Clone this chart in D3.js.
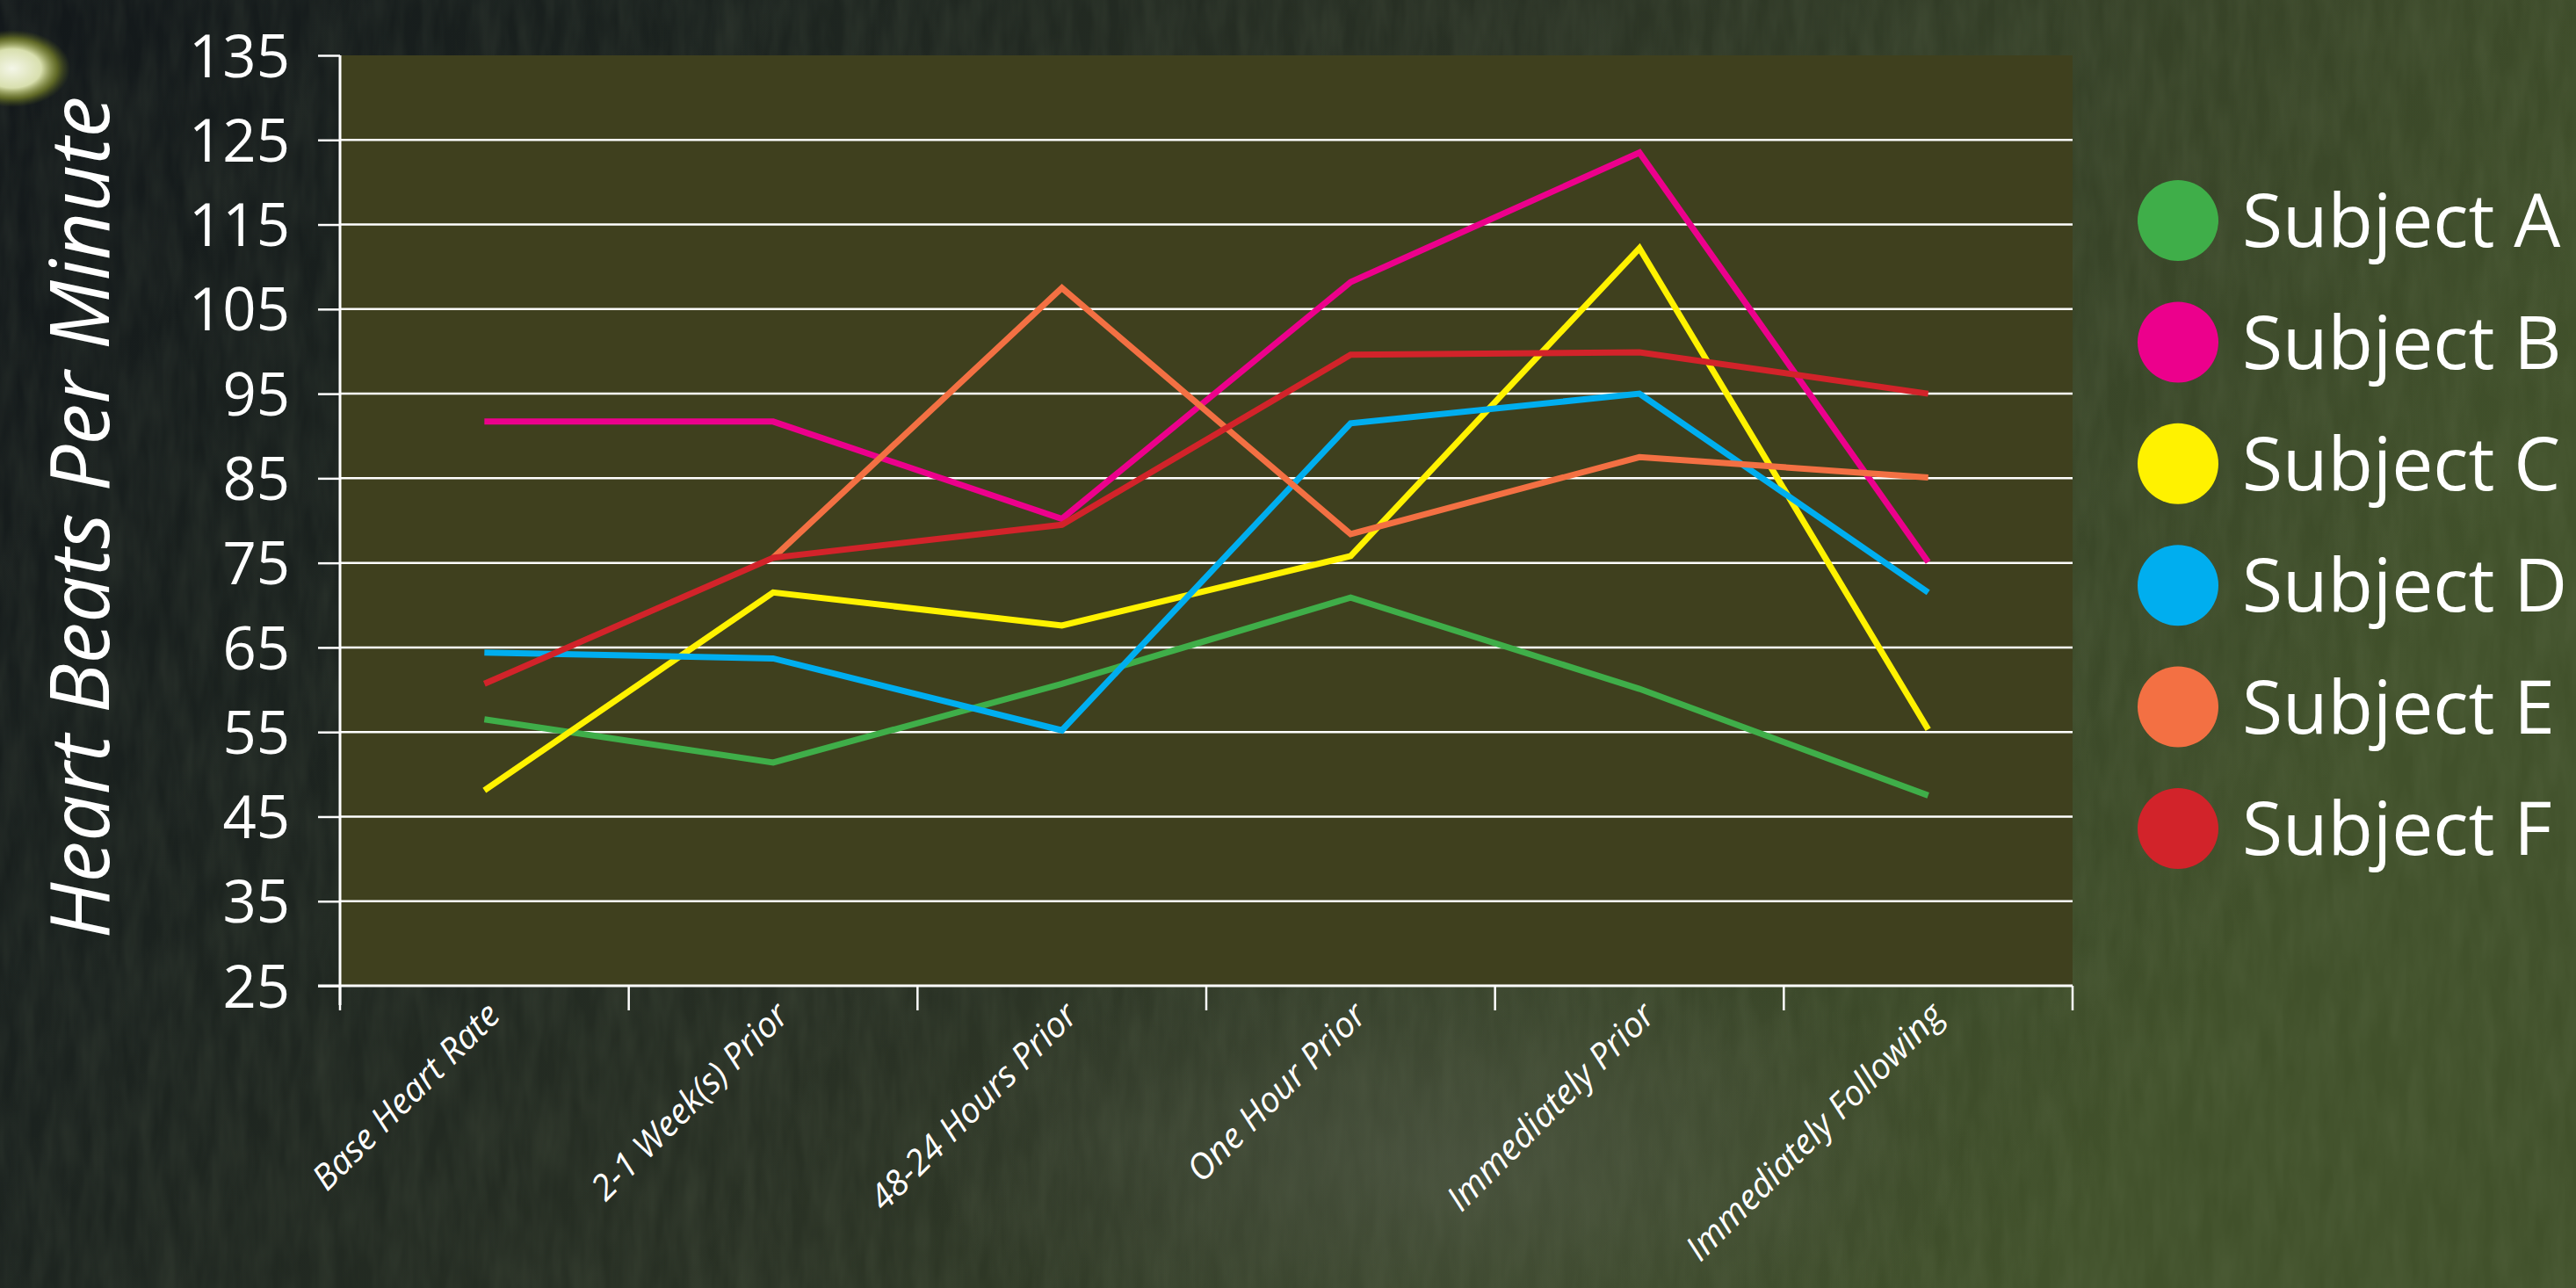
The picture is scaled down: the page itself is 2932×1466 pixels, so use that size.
<!DOCTYPE html>
<html>
<head>
<meta charset="utf-8">
<script src="https://cdn.jsdelivr.net/npm/d3@7"></script>
<style>
  html, body { margin: 0; padding: 0; background: #1b211f; }
  svg { display: block; }
</style>
</head>
<body>
<script>

// categories along the x axis
var categories = ["Base Heart Rate", "2-1 Week(s) Prior", "48-24 Hours Prior",
                  "One Hour Prior", "Immediately Prior", "Immediately Following"];

// heart rate per subject (null = no reading)
var subjectA = [56.5, 51.4, 60.7, 70.9, 60.1, 47.5];
var subjectB = [91.7, 91.7, 80.2, 108.2, 123.5, 75.1];
var subjectC = [48.1, 71.5, 67.6, 75.8, 112.2, 55.3];
var subjectD = [64.4, 63.7, 55.2, 91.5, 95.0, 71.5];
var subjectE = [null, 75.6, 107.5, 78.4, 87.5, 85.1];
var subjectF = [60.7, 75.6, 79.5, 99.6, 99.9, 95.0];

var seriesNames = ["Subject A", "Subject B", "Subject C", "Subject D", "Subject E", "Subject F"];
var seriesColors = ["#3fae49", "#ec008c", "#fff200", "#00aeef", "#f37043", "#d2232a"];

var yTicks = [25, 35, 45, 55, 65, 75, 85, 95, 105, 115, 125, 135];

var series = [subjectA, subjectB, subjectC, subjectD, subjectE, subjectF];

var W = 2932, H = 1466;
var margin = { top: 63, right: 573, bottom: 344, left: 387 };
var width = W - margin.left - margin.right;
var height = H - margin.top - margin.bottom;

var svg = d3.select("body")
  .append("svg")
  .attr("width", W)
  .attr("height", H);

var defs = svg.append("defs");

// background: dark on the left, mossy green on the right
var bg = defs.append("linearGradient").attr("id", "bg")
  .attr("x1", 0).attr("y1", 0).attr("x2", 1).attr("y2", 0.3);
bg.append("stop").attr("offset", "0%").attr("stop-color", "#12171a");
bg.append("stop").attr("offset", "25%").attr("stop-color", "#1b221f");
bg.append("stop").attr("offset", "55%").attr("stop-color", "#2a3225");
bg.append("stop").attr("offset", "80%").attr("stop-color", "#384428");
bg.append("stop").attr("offset", "100%").attr("stop-color", "#41512b");

var haze = defs.append("radialGradient").attr("id", "haze");
haze.append("stop").attr("offset", "0%").attr("stop-color", "#5a6152").attr("stop-opacity", 0.5);
haze.append("stop").attr("offset", "100%").attr("stop-color", "#5a6152").attr("stop-opacity", 0);

var glow = defs.append("radialGradient").attr("id", "glow");
glow.append("stop").attr("offset", "0%").attr("stop-color", "#f4f6e8");
glow.append("stop").attr("offset", "50%").attr("stop-color", "#d8dfae");
glow.append("stop").attr("offset", "78%").attr("stop-color", "#8f9a2c").attr("stop-opacity", 0.6);
glow.append("stop").attr("offset", "100%").attr("stop-color", "#5d6a1c").attr("stop-opacity", 0);

var noise = defs.append("filter").attr("id", "noise")
  .attr("x", 0).attr("y", 0).attr("width", "100%").attr("height", "100%");
noise.append("feTurbulence")
  .attr("type", "fractalNoise")
  .attr("baseFrequency", "0.05 0.012")
  .attr("numOctaves", 3)
  .attr("seed", 7);
noise.append("feColorMatrix")
  .attr("type", "matrix")
  .attr("values", "0 0 0 0 0.33  0 0 0 0 0.40  0 0 0 0 0.24  0 0 0 0.5 -0.12");

svg.append("rect").attr("width", W).attr("height", H).attr("fill", "url(#bg)");
svg.append("rect").attr("width", W).attr("height", H).attr("filter", "url(#noise)").attr("opacity", 0.3);
svg.append("ellipse").attr("cx", 1650).attr("cy", 1320).attr("rx", 600).attr("ry", 260).attr("fill", "url(#haze)");
svg.append("ellipse").attr("cx", 14).attr("cy", 78).attr("rx", 66).attr("ry", 44).attr("fill", "url(#glow)");

var g = svg.append("g")
  .attr("transform", "translate(" + margin.left + "," + margin.top + ")");

var xScale = d3.scaleBand()
  .domain(categories)
  .range([0, width])
  .padding(0);

var yScale = d3.scaleLinear()
  .domain([25, 135])
  .range([height, 0]);

// plot background
g.append("rect")
  .attr("width", width)
  .attr("height", height)
  .attr("fill", "#3f401e");

// horizontal gridlines
g.append("g")
  .selectAll("line")
  .data(yTicks.filter(function(d) { return d > 25 && d < 135; }))
  .enter()
  .append("line")
    .attr("x1", 0)
    .attr("x2", width)
    .attr("y1", function(d) { return yScale(d); })
    .attr("y2", function(d) { return yScale(d); })
    .attr("stroke", "#ffffff")
    .attr("stroke-width", 2.5);

// y axis
var yAxis = g.append("g")
  .call(d3.axisLeft(yScale).tickValues(yTicks).tickSize(25).tickPadding(32));
yAxis.select(".domain").remove();
yAxis.append("line")
  .attr("x1", 0).attr("x2", 0)
  .attr("y1", 0).attr("y2", height + 22)
  .attr("stroke", "#ffffff").attr("stroke-width", 3);
yAxis.selectAll(".tick line").attr("stroke", "#ffffff").attr("stroke-width", 2.5);
yAxis.selectAll(".tick text")
  .attr("fill", "#ffffff")
  .attr("dy", "0.36em")
  .style("font-family", "'Open Sans', 'Noto Sans', sans-serif")
  .style("font-size", "67px");

// x axis: line, tick marks between bands, rotated labels
var xAxis = g.append("g").attr("transform", "translate(0," + height + ")");
xAxis.append("line")
  .attr("x1", -25).attr("x2", width)
  .attr("stroke", "#ffffff").attr("stroke-width", 3);

var bounds = categories.map(function(c) { return xScale(c); }).concat([xScale.range()[1]]);
xAxis.selectAll(".xtick")
  .data(bounds)
  .enter()
  .append("line")
    .attr("class", "xtick")
    .attr("x1", function(d) { return d; })
    .attr("x2", function(d) { return d; })
    .attr("y1", 0)
    .attr("y2", 28)
    .attr("stroke", "#ffffff")
    .attr("stroke-width", 2.5);

xAxis.selectAll(".xlabel")
  .data(categories)
  .enter()
  .append("text")
    .attr("class", "xlabel")
    .attr("text-anchor", "end")
    .attr("transform", function(d) {
      return "translate(" + (xScale(d) + xScale.bandwidth() / 2 + 20) + ",36)rotate(-45)";
    })
    .attr("fill", "#ffffff")
    .style("font-family", "'Open Sans', 'Noto Sans', sans-serif")
    .style("font-style", "italic")
    .style("font-size", "40px")
    .text(function(d) { return d; });

// y axis title
svg.append("text")
  .attr("text-anchor", "middle")
  .attr("transform", "translate(124,589)rotate(-90)")
  .attr("fill", "#ffffff")
  .style("font-family", "'Open Sans', 'Noto Sans', sans-serif")
  .style("font-style", "italic")
  .style("font-size", "94px")
  .text("Heart Beats Per Minute");

// series lines
var line = d3.line()
  .defined(function(d) { return d.v != null; })
  .x(function(d) { return xScale(d.c) + xScale.bandwidth() / 2; })
  .y(function(d) { return yScale(d.v); });

g.append("g")
  .selectAll("path")
  .data(series)
  .enter()
  .append("path")
    .attr("d", function(s) {
      return line(s.map(function(v, i) { return { c: categories[i], v: v }; }));
    })
    .attr("fill", "none")
    .attr("stroke", function(s, i) { return seriesColors[i]; })
    .attr("stroke-width", 7)
    .attr("stroke-linejoin", "miter")
    .attr("stroke-linecap", "butt");

// legend
var legend = svg.append("g").attr("transform", "translate(2479,251)");
var items = legend.selectAll("g")
  .data(seriesNames)
  .enter()
  .append("g")
    .attr("transform", function(d, i) { return "translate(0," + (i * 138.4) + ")"; });
items.append("circle")
  .attr("r", 46)
  .attr("fill", function(d, i) { return seriesColors[i]; });
items.append("text")
  .attr("x", 73)
  .attr("dy", "0.36em")
  .attr("fill", "#ffffff")
  .style("font-family", "'Open Sans', 'Noto Sans', sans-serif")
  .style("font-size", "84px")
  .text(function(d) { return d; });

</script>
</body>
</html>
